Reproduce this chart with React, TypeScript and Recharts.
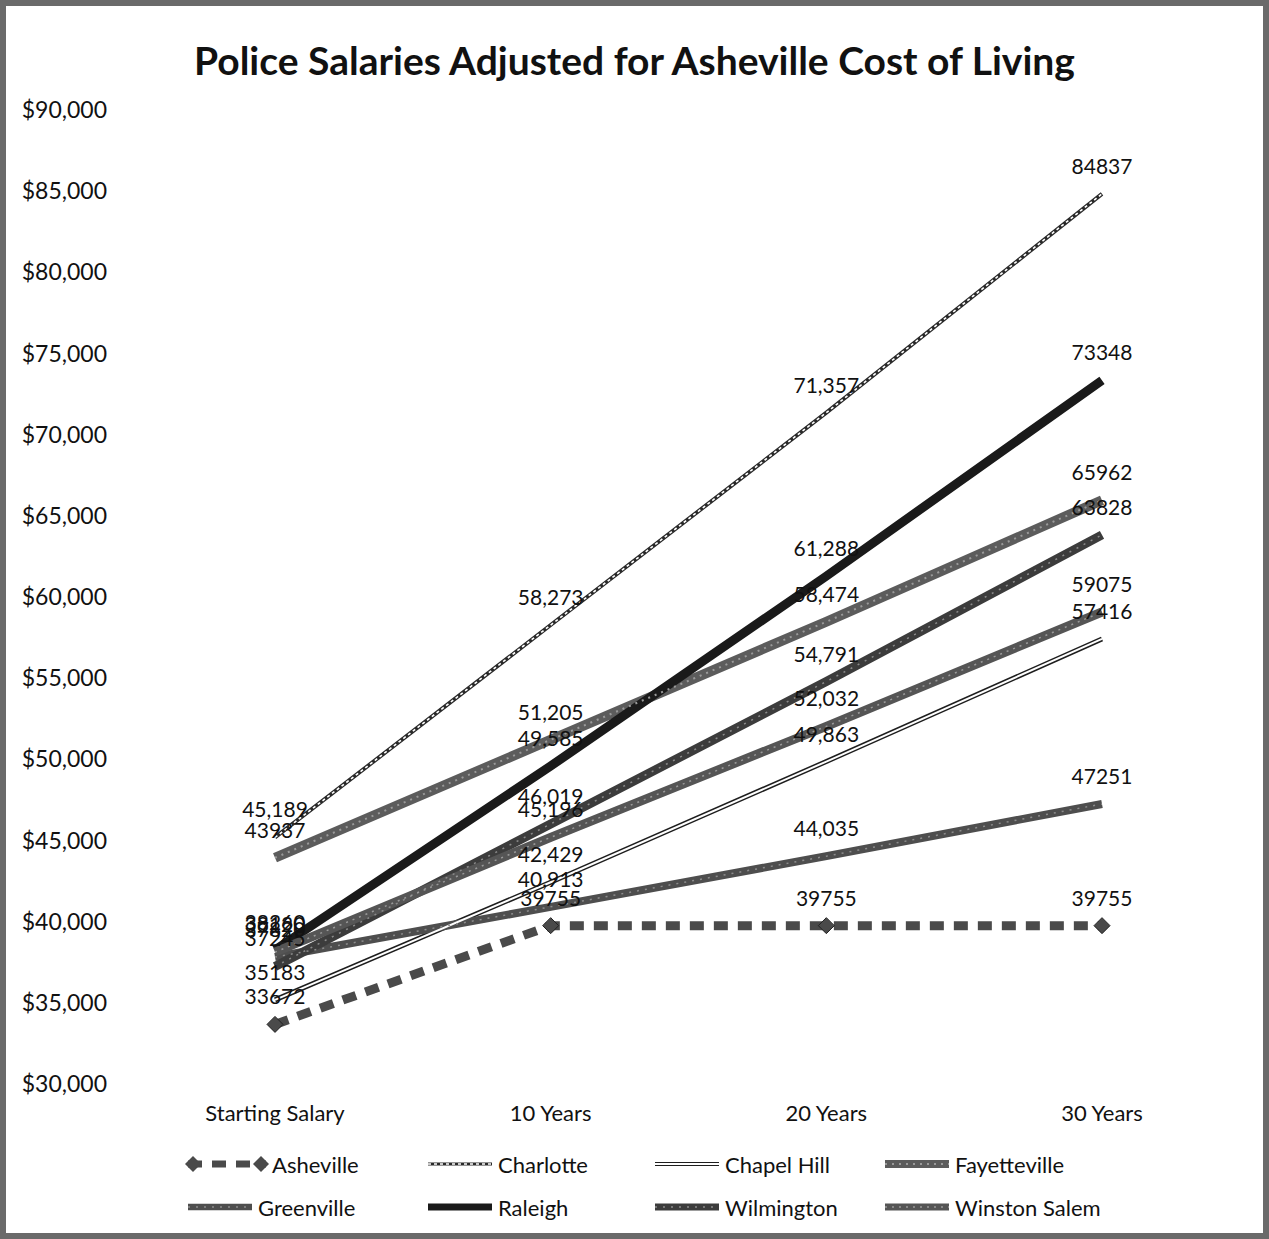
import React from 'react';
import { LineChart, Line, XAxis, YAxis, Legend, LabelList } from 'recharts';

const categories = ['Starting Salary', '10 Years', '20 Years', '30 Years'];

const asheville = [33672, 39755, 39755, 39755];
const charlotte = [45189, 58273, 71357, 84837];
const chapelHill = [35183, 42429, 49863, 57416];
const fayetteville = [43937, 51205, 58474, 65962];
const greenville = [37820, 40913, 44035, 47251];
const raleigh = [38260, 49585, 61288, 73348];
const wilmington = [37245, 46019, 54791, 63828];
const winstonSalem = [38120, 45196, 52032, 59075];

const yTicks = [30000, 35000, 40000, 45000, 50000, 55000, 60000, 65000, 70000, 75000, 80000, 85000, 90000];

type S = {
  key: string;
  name: string;
  values: number[];
  stroke: string;
  width: number;
  dash?: string;
  inner?: { stroke: string; width: number; dash?: string };
  diamond?: boolean;
  commaStart?: boolean;
  commaMid?: boolean;
};

const series: S[] = [
  { key: 'asheville', name: 'Asheville', values: asheville, stroke: '#4a4a4a', width: 9, dash: '14 10', diamond: true, commaStart: false, commaMid: false },
  { key: 'charlotte', name: 'Charlotte', values: charlotte, stroke: '#2a2a2a', width: 4, inner: { stroke: '#ffffff', width: 1.6, dash: '3 3' }, commaStart: true, commaMid: true },
  { key: 'chapelHill', name: 'Chapel Hill', values: chapelHill, stroke: '#1e1e1e', width: 5, inner: { stroke: '#ffffff', width: 2 }, commaStart: false, commaMid: true },
  { key: 'fayetteville', name: 'Fayetteville', values: fayetteville, stroke: '#5c5c5c', width: 10, inner: { stroke: '#9a9a9a', width: 2, dash: '2 5' }, commaStart: false, commaMid: true },
  { key: 'greenville', name: 'Greenville', values: greenville, stroke: '#4e4e4e', width: 8, inner: { stroke: '#8c8c8c', width: 1.5, dash: '2 6' }, commaStart: false, commaMid: true },
  { key: 'raleigh', name: 'Raleigh', values: raleigh, stroke: '#1a1a1a', width: 9, commaStart: false, commaMid: true },
  { key: 'wilmington', name: 'Wilmington', values: wilmington, stroke: '#3c3c3c', width: 9, inner: { stroke: '#8a8a8a', width: 1.5, dash: '2 6' }, commaStart: false, commaMid: true },
  { key: 'winstonSalem', name: 'Winston Salem', values: winstonSalem, stroke: '#555555', width: 9, inner: { stroke: '#999999', width: 1.5, dash: '2 5' }, commaStart: false, commaMid: true },
];

const fmt = (v: number, comma: boolean) => (comma ? v.toLocaleString('en-US') : String(v));

const data = categories.map((cat, i) => {
  const row: Record<string, string | number> = { cat };
  series.forEach((s) => {
    row[s.key] = s.values[i];
    const comma = i === 0 ? !!s.commaStart : i === 3 ? false : !!s.commaMid;
    row[s.key + 'Label'] = fmt(s.values[i], comma);
  });
  return row;
});

const FONT = 'Lato, "Open Sans", sans-serif';

const Diamond = (props: any) => {
  const { cx, cy } = props;
  if (cx == null || cy == null) return <g />;
  const r = 8;
  return <polygon points={`${cx},${cy - r} ${cx + r},${cy} ${cx},${cy + r} ${cx - r},${cy}`} fill="#4a4a4a" stroke="#222" strokeWidth={1} />;
};

const LegendIcon = ({ s }: { s: S }) => {
  const w = s.diamond ? 86 : 72;
  return (
    <svg width={w} height={18} style={{ display: 'block' }}>
      <line x1={4} y1={9} x2={w - 4} y2={9} stroke={s.stroke} strokeWidth={s.width * 0.8} strokeDasharray={s.dash} />
      {s.inner && <line x1={4} y1={9} x2={w - 4} y2={9} stroke={s.inner.stroke} strokeWidth={s.inner.width} strokeDasharray={s.inner.dash} />}
      {s.diamond && <polygon points="9,1 17,9 9,17 1,9" fill="#4a4a4a" />}
      {s.diamond && <polygon points={`${w - 9},1 ${w - 1},9 ${w - 9},17 ${w - 17},9`} fill="#4a4a4a" />}
    </svg>
  );
};

const renderLegend = () => (
  <div style={{ position: 'relative', width: 1267, height: 90, fontFamily: FONT, fontSize: 22, color: '#111' }}>
    {series.map((s, i) => {
      const col = i % 4;
      const row = Math.floor(i / 4);
      const left = [183, 423, 650, 880][col];
      return (
        <div key={s.key} style={{ position: 'absolute', left, top: row * 43, display: 'flex', alignItems: 'center', height: 26 }}>
          <LegendIcon s={s} />
          <span style={{ marginLeft: 2 }}>{s.name}</span>
        </div>
      );
    })}
  </div>
);

export default function App() {
  return (
    <div style={{ position: 'absolute', left: 0, top: 0, width: 1269, height: 1239, background: '#fff', overflow: 'hidden' }}>
      <div style={{ position: 'absolute', inset: 0, border: '6px solid #6a6a6a', boxSizing: 'border-box', pointerEvents: 'none', zIndex: 2 }} />
      <div style={{ position: 'absolute', left: 0, top: 38, width: 1269, textAlign: 'center', fontFamily: FONT, fontWeight: 700, fontSize: 39, lineHeight: '44px', color: '#111' }}>
        Police Salaries Adjusted for Asheville Cost of Living
      </div>
      <div style={{ position: 'absolute', left: 0, top: 0 }}>
        <LineChart width={1269} height={1239} data={data} margin={{ top: 110, right: 29, left: 0, bottom: 115 }}>
          <XAxis
            dataKey="cat"
            axisLine={false}
            tickLine={false}
            tickSize={0}
            tickMargin={21}
            height={40}
            interval={0}
            padding={{ left: 138, right: 138 }}
            tick={{ fontFamily: FONT, fontSize: 22, fill: '#111' }}
          />
          <YAxis
            domain={[30000, 90000]}
            ticks={yTicks}
            axisLine={false}
            tickLine={false}
            tickSize={0}
            tickMargin={30}
            width={137}
            interval={0}
            tickFormatter={(v: number) => '$' + v.toLocaleString('en-US')}
            tick={{ fontFamily: FONT, fontSize: 23, fill: '#111' }}
          />
          <Legend verticalAlign="middle" layout="horizontal" wrapperStyle={{ top: 1151, left: 1, width: 1267 }} content={renderLegend} />
          {series.map((s) => (
            <Line
              key={s.key}
              dataKey={s.key}
              name={s.name}
              type="linear"
              stroke={s.stroke}
              strokeWidth={s.width}
              strokeDasharray={s.dash}
              dot={s.diamond ? <Diamond /> : false}
              activeDot={false}
              isAnimationActive={false}
            />
          ))}
          {series.filter((s) => s.inner).map((s) => (
            <Line
              key={s.key + 'Inner'}
              dataKey={s.key}
              legendType="none"
              type="linear"
              stroke={s.inner!.stroke}
              strokeWidth={s.inner!.width}
              strokeDasharray={s.inner!.dash}
              dot={false}
              activeDot={false}
              isAnimationActive={false}
            />
          ))}
          {series.map((s) => (
            <Line
              key={s.key + 'Labels'}
              dataKey={s.key}
              legendType="none"
              stroke="none"
              dot={false}
              activeDot={false}
              isAnimationActive={false}
            >
              <LabelList dataKey={s.key + 'Label'} position="top" offset={20} style={{ fontFamily: FONT, fontSize: 21, fill: '#111' }} />
            </Line>
          ))}
        </LineChart>
      </div>
    </div>
  );
}
